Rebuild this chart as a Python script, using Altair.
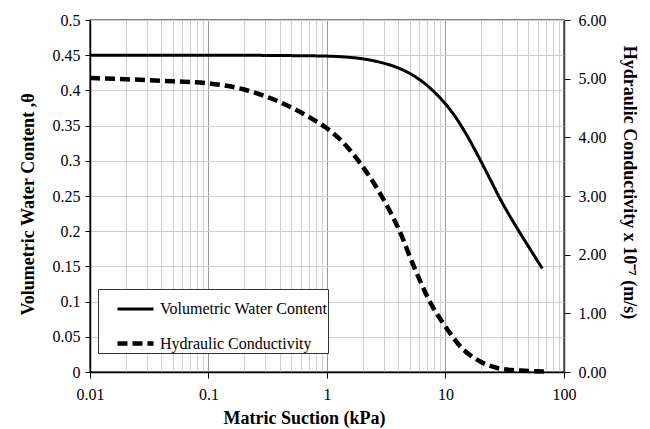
import altair as alt
import pandas as pd

# Soil-water characteristic curve: matric suction (kPa) vs volumetric water content
suction_wc = [0.01, 0.1, 0.495, 1.0, 1.44, 2.05, 2.84, 4.06, 5.09, 6.10, 7.04, 7.75, 8.99,
              10.04, 12.6, 15.78, 19.81, 24.05, 29.2, 35.45, 41.67, 52.3, 65.6]
theta = [0.450, 0.450, 0.4494, 0.4487, 0.4474, 0.4446, 0.4398, 0.4314, 0.4233, 0.4148,
         0.4067, 0.4003, 0.3895, 0.3804, 0.3582, 0.3310, 0.3000, 0.2723, 0.2446, 0.2195,
         0.2000, 0.1733, 0.1470]

# Hydraulic conductivity function (x 10^-7 m/s)
suction_k = [0.01, 0.02, 0.05, 0.1, 0.2, 0.408, 0.778, 0.977, 1.148, 1.47, 1.928, 2.84,
             4.06, 5.42, 7.50, 10.04, 13.4, 19.8, 31.1, 43.1, 67.6]
conductivity = [5.01, 4.99, 4.955, 4.92, 4.815, 4.593, 4.295, 4.167, 4.057, 3.844, 3.545,
                3.025, 2.42, 1.795, 1.171, 0.767, 0.431, 0.176, 0.046, 0.024, 0.0085]

series_names = ["Volumetric Water Content", "Hydraulic Conductivity"]

# Axis tick positions
x_grid = sorted({round(m * d, 6) for d in [0.01, 0.1, 1, 10] for m in range(1, 10)} | {100})
theta_ticks = [0, 0.05, 0.1, 0.15, 0.2, 0.25, 0.3, 0.35, 0.4, 0.45, 0.5]
k_ticks = [0, 1, 2, 3, 4, 5, 6]

wc_df = pd.DataFrame({"suction": suction_wc, "value": theta, "series": series_names[0]})
k_df = pd.DataFrame({"suction": suction_k, "value": conductivity, "series": series_names[1]})

FONT = "Liberation Serif"
is_decade = "abs(log(datum.value)/LN10 - round(log(datum.value)/LN10)) < 0.001"

x_enc = alt.X(
    "suction:Q",
    scale=alt.Scale(type="log", domain=[0.01, 100]),
    axis=alt.Axis(
        values=x_grid,
        labelExpr=f"{is_decade} ? format(datum.value, '~g') : ''",
        labelFont=FONT,
        grid=True,
        gridColor={"condition": {"test": is_decade, "value": "#9a9a9a"}, "value": "#cfcfcf"},
        tickColor={"condition": {"test": is_decade, "value": "#000000"}, "value": "transparent"},
        tickSize=6,
        labelPadding=8,
        labelOverlap=False,
        labelBound=False,
        labelFlush=False,
        title="Matric Suction (kPa)",
        titleX=214,
        titleY=46,
        titleAlign="center",
        titleBaseline="middle",
    ),
)

dash_scale = alt.Scale(domain=series_names, range=[[1, 0], [10, 5]])
width_scale = alt.Scale(domain=series_names, range=[3, 4.5])
legend = alt.Legend(
    title=None,
    orient="none",
    legendX=8,
    legendY=269,
    direction="vertical",
    fillColor="white",
    strokeColor="#333333",
    padding=0,
    symbolType="stroke",
    symbolSize=1300,
    symbolOffset=17,
    symbolStrokeColor="black",
    labelFont=FONT,
    labelFontSize=16,
    labelColor="black",
    labelOffset=4,
    labelLimit=400,
    rowPadding=6,
)

wc_line = alt.Chart(wc_df).mark_line(color="black", interpolate="monotone").encode(
    x=x_enc,
    y=alt.Y(
        "value:Q",
        scale=alt.Scale(domain=[0, 0.5]),
        axis=alt.Axis(
            values=theta_ticks,
            format=".2~f",
            labelFont=FONT,
            grid=True,
            gridColor="#cfcfcf",
            tickSize=5,
            labelPadding=5,
            title="Volumetric Water Content ,θ",
            titleX=-62,
            titleY=184,
            titleAlign="center",
            titleBaseline="middle",
        ),
    ),
    strokeDash=alt.StrokeDash("series:N", scale=dash_scale, legend=legend),
    strokeWidth=alt.StrokeWidth("series:N", scale=width_scale, legend=legend),
)

k_line = alt.Chart(k_df).mark_line(color="black", interpolate="monotone").encode(
    x=x_enc,
    y=alt.Y(
        "value:Q",
        scale=alt.Scale(domain=[0, 6]),
        axis=alt.Axis(
            orient="right",
            values=k_ticks,
            format=".2f",
            labelFont=FONT,
            grid=False,
            tickSize=6,
            labelPadding=8,
            domainColor="#404040",
            title="Hydraulic Conductivity x 10⁻⁷ (m/s)",
            titleAngle=90,
            titleX=64,
            titleY=162,
            titleAlign="center",
            titleBaseline="middle",
        ),
    ),
    strokeDash=alt.StrokeDash("series:N", scale=dash_scale, legend=legend),
    strokeWidth=alt.StrokeWidth("series:N", scale=width_scale, legend=legend),
)

chart = (
    alt.layer(wc_line, k_line)
    .resolve_scale(y="independent")
    .properties(
        width=474,
        height=352,
        autosize=alt.AutoSizeParams(type="none"),
        padding={"left": 90, "top": 20, "right": 86, "bottom": 57},
        background="white",
    )
    .configure(font=FONT)
    .configure_view(stroke="#555555", strokeWidth=1.5)
    .configure_axis(
        labelFont=FONT,
        labelFontSize=16,
        labelColor="black",
        titleFont=FONT,
        titleFontSize=18,
        titleFontWeight="bold",
        titleColor="black",
        domainColor="black",
        domainWidth=1.5,
        tickColor="black",
    )
)

chart.save("out.html", embed_options={"renderer": "svg", "actions": False})
